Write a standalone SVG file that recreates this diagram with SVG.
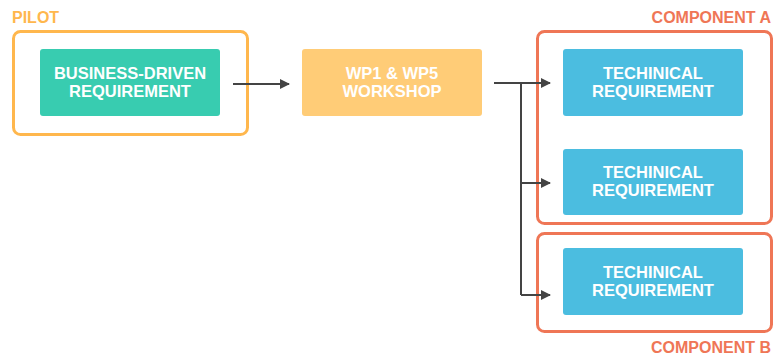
<svg xmlns="http://www.w3.org/2000/svg" width="774" height="358" viewBox="0 0 774 358">
<defs>
<style>
.t{font-family:"Liberation Sans",Arial,sans-serif;font-weight:bold;font-size:16.5px;fill:#fff;text-anchor:middle}
.lbl{font-family:"Liberation Sans",Arial,sans-serif;font-weight:bold;font-size:16px}
.grp{fill:none;stroke-width:3}
.c{fill:none;stroke:#444;stroke-width:2}
</style>
<marker id="ah" viewBox="0 0 10 10" refX="9" refY="5" markerWidth="10" markerHeight="10" markerUnits="userSpaceOnUse" orient="auto">
<path d="M0,0L10,5L0,10z" fill="#444"/>
</marker>
</defs>
<rect width="774" height="358" fill="#fff"/>
<g id="pilot">
<rect class="grp" x="13.5" y="31.5" width="234" height="103" rx="7" stroke="#FFB74D"/>
<text class="lbl" x="12" y="23" fill="#FFB74D">PILOT</text>
</g>
<g id="componentA">
<rect class="grp" x="537.5" y="31.5" width="234" height="192" rx="7" stroke="#EF7656"/>
<text class="lbl" x="771" y="23" fill="#EF7656" text-anchor="end">COMPONENT A</text>
</g>
<g id="componentB">
<rect class="grp" x="537.5" y="233.5" width="234" height="98" rx="7" stroke="#EF7656"/>
<text class="lbl" x="771" y="353" fill="#EF7656" text-anchor="end">COMPONENT B</text>
</g>
<g id="business">
<rect x="40" y="49" width="180" height="67" rx="3" fill="#38CCB0"/>
<text class="t" x="130" y="79">BUSINESS-DRIVEN</text>
<text class="t" x="130" y="97">REQUIREMENT</text>
</g>
<g id="workshop">
<rect x="302" y="49" width="180" height="67" rx="3" fill="#FFCC77"/>
<text class="t" x="392" y="79">WP1 &amp; WP5</text>
<text class="t" x="392" y="97">WORKSHOP</text>
</g>
<g id="tech1">
<rect x="563" y="49" width="180" height="67" rx="3" fill="#4BBDE0"/>
<text class="t" x="653" y="79">TECHINICAL</text>
<text class="t" x="653" y="97">REQUIREMENT</text>
</g>
<g id="tech2">
<rect x="563" y="149" width="180" height="66" rx="3" fill="#4BBDE0"/>
<text class="t" x="653" y="178">TECHINICAL</text>
<text class="t" x="653" y="196">REQUIREMENT</text>
</g>
<g id="tech3">
<rect x="563" y="248" width="180" height="67" rx="3" fill="#4BBDE0"/>
<text class="t" x="653" y="278">TECHINICAL</text>
<text class="t" x="653" y="296">REQUIREMENT</text>
</g>
<g id="connectors">
<path class="c" d="M233,84H289" marker-end="url(#ah)"/>
<path class="c" d="M494,83H550" marker-end="url(#ah)"/>
<path class="c" d="M521,83V295"/>
<path class="c" d="M521,183H550" marker-end="url(#ah)"/>
<path class="c" d="M521,295H550" marker-end="url(#ah)"/>
</g>
</svg>
